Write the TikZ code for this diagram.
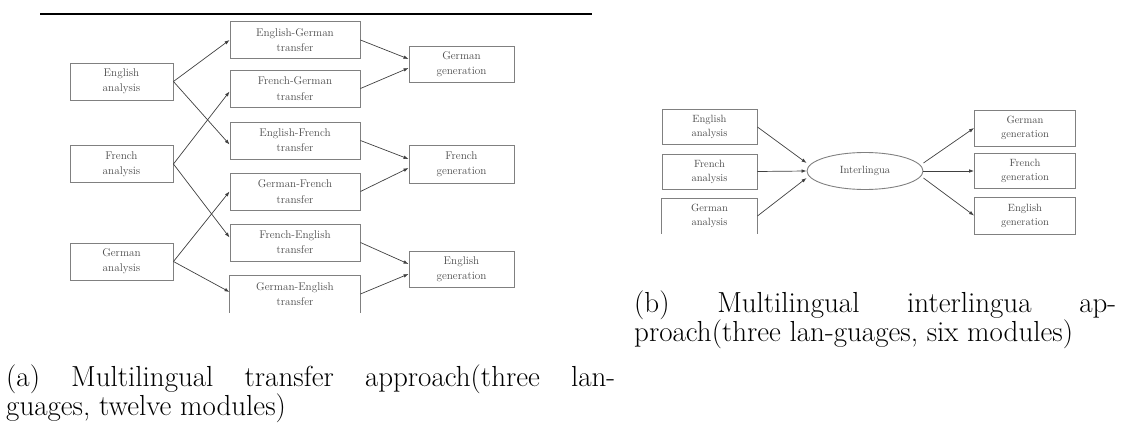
\documentclass[tikz,border=0pt]{standalone}
\usetikzlibrary{arrows.meta,shapes.geometric}
\begin{document}
\begin{tikzpicture}[x=1pt,y=-1pt,
  box/.style={draw=black!50, line width=0.9pt, inner sep=0pt, align=center, text=black!70},
  abox/.style={box, minimum height=37pt, font=\fontsize{11.2}{15.3}\selectfont},
  bbox/.style={box, minimum height=35pt, font=\fontsize{10.5}{14}\selectfont},
  openbox/.style={draw=black!50, line width=0.9pt},
  conn/.style={draw=black!75, line width=0.7pt, -{Latex[length=5pt,width=3.6pt]}},
  captext/.style={anchor=north west, inner sep=0pt, font=\fontsize{29}{29}\selectfont}
]
\useasboundingbox (0,0) rectangle (1122,423);

% ---------- (a) transfer approach ----------
\draw[line width=1.5pt] (40,14) -- (592,14);

\node[abox, minimum width=103pt] (ea) at (121.5,81.5) {English\\analysis};
\node[abox, minimum width=103pt] (fa) at (121.5,164) {French\\analysis};
\node[abox, minimum width=103pt] (ga) at (121.5,261.5) {German\\analysis};

\node[abox, minimum width=130pt] (egt) at (295,40) {English-German\\transfer};
\node[abox, minimum width=130pt] (fgt) at (295,88.5) {French-German\\transfer};
\node[abox, minimum width=130pt] (eft) at (295,140.5) {English-French\\transfer};
\node[abox, minimum width=130pt] (gft) at (295,191.5) {German-French\\transfer};
\node[abox, minimum width=130pt] (fet) at (295,242.5) {French-English\\transfer};
\node[abox, draw=none, minimum width=130pt] (get) at (295,294) {German-English\\transfer};
\draw[openbox] (get.south west) -- (get.north west) -- (get.north east) -- (get.south east);

\node[abox, minimum width=105pt, minimum height=36pt] (ggen) at (461.5,64) {German\\generation};
\node[abox, minimum width=105pt, minimum height=38pt] (fgen) at (461.5,164) {French\\generation};
\node[abox, minimum width=105pt, minimum height=36pt] (egen) at (461.5,269) {English\\generation};

\draw[conn] (ea.east) -- (egt.west);
\draw[conn] (ea.east) -- ([yshift=-4pt]eft.west);
\draw[conn] (fa.east) -- ([yshift=-3pt]fgt.west);
\draw[conn] (fa.east) -- ([yshift=5pt]fet.west);
\draw[conn] (ga.east) -- (gft.west);
\draw[conn] (ga.east) -- ([yshift=2pt]get.west);

\draw[conn] (egt.east) -- ([yshift=5pt]ggen.west);
\draw[conn] (fgt.east) -- ([yshift=-4pt]ggen.west);
\draw[conn] (eft.east) -- ([yshift=5pt]fgen.west);
\draw[conn] (gft.east) -- ([yshift=-4pt]fgen.west);
\draw[conn] (fet.east) -- ([yshift=5pt]egen.west);
\draw[conn] (get.east) -- ([yshift=-5pt]egen.west);

\node[captext] (capa) at (6,365) {\parbox{609pt}{\tolerance=10000 \exhyphenpenalty=10000 \hyphenpenalty=10000
(a) Multilingual transfer approach(three lan-\linebreak guages, twelve modules)}};

% ---------- (b) interlingua approach ----------
\node[bbox, minimum width=95pt] (eab) at (709.5,127) {English\\analysis};
\node[bbox, minimum width=95pt] (fab) at (709.5,171.5) {French\\analysis};
\node[bbox, draw=none, minimum width=95pt] (gab) at (709.5,216) {German\\analysis};
\draw[openbox] (gab.south west) -- (gab.north west) -- (gab.north east) -- (gab.south east);

\node[ellipse, draw=black!50, line width=0.9pt, minimum width=116pt, minimum height=37pt,
      inner sep=0pt, text=black!70, font=\fontsize{10.5}{14}\selectfont] (il) at (865,171) {Interlingua};

\node[bbox, minimum width=101pt, minimum height=36pt] (ggb) at (1025,128) {German\\generation};
\node[bbox, minimum width=101pt] (fgb) at (1025,171) {French\\generation};
\node[bbox, minimum width=101pt, minimum height=37pt] (egb) at (1025,215.5) {English\\generation};

\draw[conn] (eab.east) -- ([yshift=8pt]il.west);
\draw[conn] (fab.east) -- (il.west);
\draw[conn] (gab.east) -- ([yshift=-7pt]il.west);
\draw[conn] ([yshift=8pt]il.east) -- (ggb.west);
\draw[conn] (il.east) -- (fgb.west);
\draw[conn] ([yshift=-7pt]il.east) -- (egb.west);

\node[captext] (capb) at (634,291) {\parbox{482pt}{\tolerance=10000 \exhyphenpenalty=10000 \hyphenpenalty=10000
(b) Multilingual interlingua ap-\linebreak proach(three lan-guages, six modules)}};
\end{tikzpicture}
\end{document}
